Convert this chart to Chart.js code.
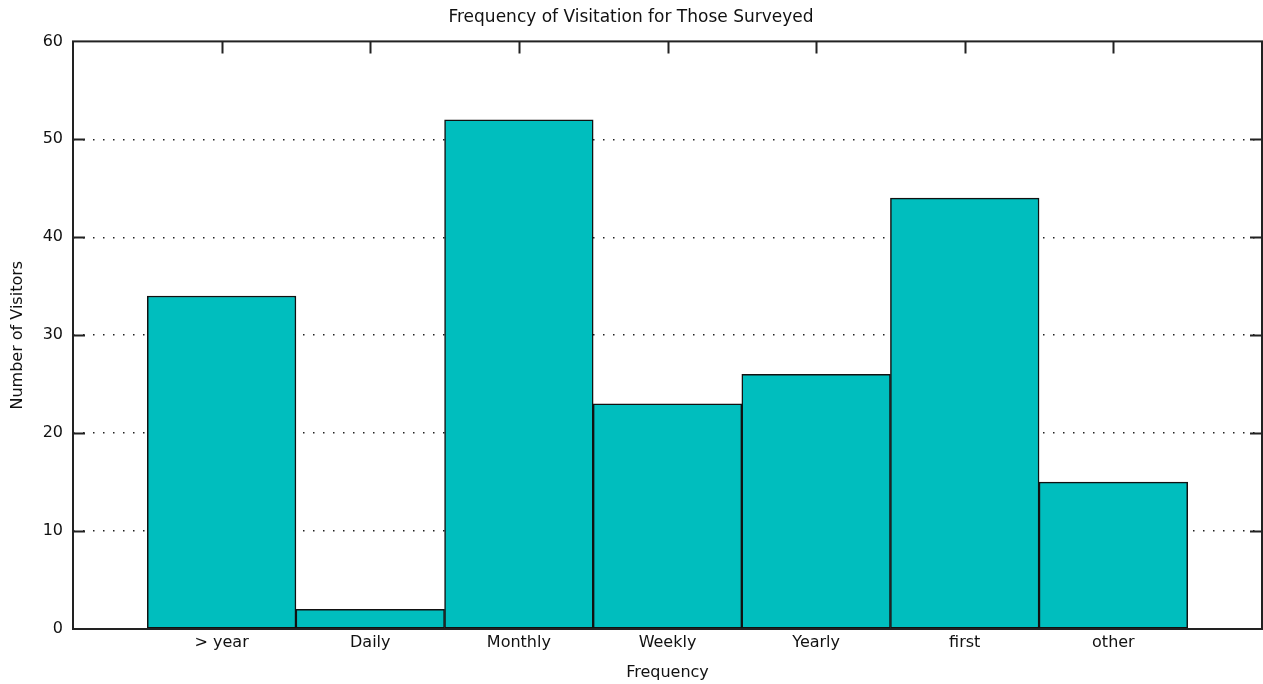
<!DOCTYPE html>
<html>
<head>
<meta charset="utf-8">
<script src="https://cdn.jsdelivr.net/npm/chart.js@4/dist/chart.umd.min.js"></script>
<style>
  html, body { margin: 0; padding: 0; background: #fff; }
  #wrap { width: 1263px; height: 684px; }
</style>
</head>
<body>
<div id="wrap"><canvas id="chart" width="1263" height="684"></canvas></div>
<script>
// empty slots at both ends keep the axis running 0..8 like the original
let categories = ["", "> year", "Daily", "Monthly", "Weekly", "Yearly", "first", "other", ""];
let visitors = [null, 34, 2, 52, 23, 26, 44, 15, null];
let yTicks = [0, 10, 20, 30, 40, 50, 60];

let fontName = "'DejaVu Sans', sans-serif";

// frame, inward tick marks on all sides
let framePlugin = {
  id: "frame",
  afterDraw: function (chart) {
    let ctx = chart.ctx;
    let a = chart.chartArea;
    let x = chart.scales.x;
    let y = chart.scales.y;
    ctx.save();
    ctx.strokeStyle = "#222";
    ctx.lineWidth = 2;
    ctx.strokeRect(a.left, a.top, a.right - a.left, a.bottom - a.top);
    ctx.beginPath();
    for (let i = 1; i < categories.length - 1; i++) {
      let px = Math.round(x.getPixelForValue(i)) + 0.5;
      ctx.moveTo(px, a.top);
      ctx.lineTo(px, a.top + 12);
    }
    yTicks.forEach(function (v) {
      if (v === 0 || v === 60) return;
      let py = Math.round(y.getPixelForValue(v)) + 0.5;
      ctx.moveTo(a.left, py);
      ctx.lineTo(a.left + 12, py);
      ctx.moveTo(a.right, py);
      ctx.lineTo(a.right - 12, py);
    });
    ctx.stroke();
    ctx.restore();
  }
};

let ctx = document.getElementById("chart").getContext("2d");
let chart = new Chart(ctx, {
  type: "bar",
  data: {
    labels: categories,
    datasets: [
      {
        label: "Number of Visitors",
        data: visitors,
        backgroundColor: "rgb(0, 190, 190)",
        borderColor: "#111",
        borderWidth: 1.5,
        borderSkipped: false,
        barPercentage: 1.0,
        categoryPercentage: 1.0,
      },
    ],
  },
  options: {
    responsive: false,
    animation: false,
    layout: { padding: { left: 0, right: 1, top: 0, bottom: 0 } },
    plugins: {
      legend: { display: false },
      tooltip: { enabled: false },
      title: {
        display: true,
        text: "Frequency of Visitation for Those Surveyed",
        color: "#111",
        font: { family: fontName, size: 17, weight: "normal" },
        padding: { top: 7, bottom: 14 },
      },
    },
    scales: {
      x: {
        offset: false,
        grid: { display: false, drawTicks: false },
        border: { display: false },
        ticks: {
          color: "#111",
          padding: 4,
          maxRotation: 0,
          autoSkip: false,
          font: { family: fontName, size: 16 },
        },
        title: {
          display: true,
          text: "Frequency",
          color: "#111",
          padding: { top: 0, bottom: 2 },
          font: { family: fontName, size: 16 },
        },
        afterFit: function (scale) {
          scale.height = 55;
          scale.paddingLeft = 0;
          scale.paddingRight = 0;
        },
      },
      y: {
        min: 0,
        max: 60,
        afterBuildTicks: function (scale) {
          scale.ticks = yTicks.map(function (v) { return { value: v }; });
        },
        grid: {
          drawTicks: false,
          color: function (c) {
            let v = c.tick ? c.tick.value : 0;
            return v === 0 || v === 60 ? "rgba(0,0,0,0)" : "#222";
          },
          lineWidth: 1.5,
        },
        border: { display: false, dash: [1.5, 8.5] },
        ticks: {
          color: "#111",
          padding: 10,
          font: { family: fontName, size: 16 },
        },
        title: {
          display: true,
          text: "Number of Visitors",
          color: "#111",
          padding: { top: 8, bottom: 0 },
          font: { family: fontName, size: 16 },
        },
        afterFit: function (scale) {
          scale.width = 73;
        },
      },
    },
  },
  plugins: [framePlugin],
});
</script>
</body>
</html>
